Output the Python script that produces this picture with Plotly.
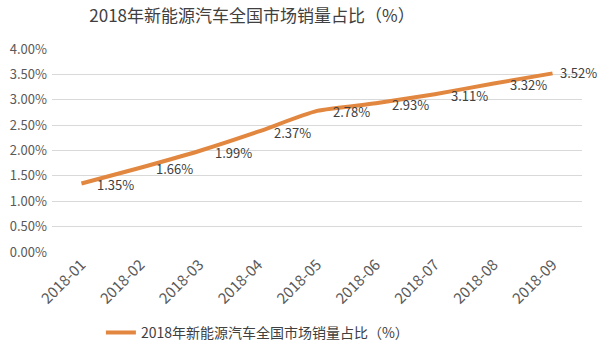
import plotly.graph_objects as go

months = ["2018-01", "2018-02", "2018-03", "2018-04", "2018-05", "2018-06", "2018-07", "2018-08", "2018-09"]
share = [1.35, 1.66, 1.99, 2.37, 2.78, 2.93, 3.11, 3.32, 3.52]
labels = [f"{v:.2f}%" for v in share]
yticks = [0, 0.5, 1, 1.5, 2, 2.5, 3, 3.5, 4]
yticklabels = [f"{v:.2f}%" for v in yticks]
series_name = "2018年新能源汽车全国市场销量占比（%）"

font_family = "Noto Sans CJK SC, Noto Sans, sans-serif"

fig = go.Figure()
fig.add_trace(go.Scatter(
    x=months, y=share, mode="lines",
    line=dict(color="#E2873F", width=4, shape="spline", smoothing=0.6),
    name=series_name, showlegend=True, cliponaxis=False,
))

n = len(months)
for i, (m, v, t) in enumerate(zip(months, share, labels)):
    last = i == n - 1
    fig.add_annotation(x=m, y=v, text=t, showarrow=False, xanchor="left", yanchor="middle",
                       xshift=5 if last else 14, yshift=1 if last else -1,
                       font=dict(size=13, color="#404040", family=font_family))

fig.update_layout(
    width=600, height=353,
    margin=dict(l=52, r=18, t=49, b=101),
    paper_bgcolor="white", plot_bgcolor="white",
    font=dict(family=font_family, color="#595959"),
    title=dict(text="2018年新能源汽车全国市场销量占比（%）", x=0.42, xanchor="center",
               xref="container", y=0.955, yanchor="middle", font=dict(size=17, color="#404040")),
    xaxis=dict(type="category", range=[-0.5, 8.5], tickangle=-45,
               tickfont=dict(size=15, color="#595959"),
               showgrid=False, showline=False, ticks="", zeroline=False, automargin=False),
    yaxis=dict(range=[0, 4], tickvals=yticks, ticktext=yticklabels,
               tickfont=dict(size=13, color="#595959"),
               showgrid=True, gridcolor="#D9D9D9", gridwidth=1, zeroline=False,
               showline=False, ticks="", ticklabelstandoff=4, automargin=False),
    legend=dict(orientation="h", xref="container", x=0.429, xanchor="center",
                yref="container", y=0.057, yanchor="middle",
                font=dict(size=14, color="#404040")),
)

fig.write_html("out.html")
